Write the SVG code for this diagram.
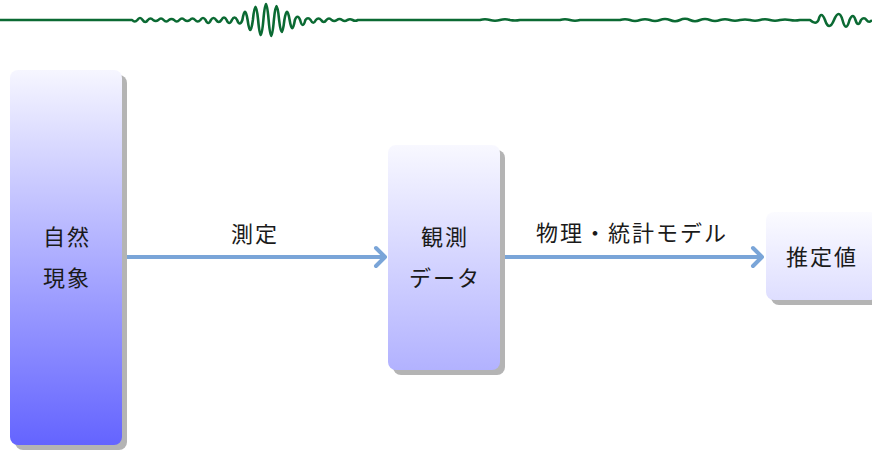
<svg xmlns="http://www.w3.org/2000/svg" width="872" height="452" viewBox="0 0 872 452">
<style>
.shadow{fill:#b4b4b4}
.lbl{font-family:"Noto Sans CJK JP","Noto Sans CJK SC",sans-serif;font-size:22px;fill:#1a1a1a;text-anchor:middle;letter-spacing:2px}
.conn{fill:none;stroke:#7aa5d8;stroke-width:4;stroke-linecap:round;stroke-linejoin:round}
.wave{fill:none;stroke:#0b6a33;stroke-width:2.6;stroke-linejoin:round}
</style>
<defs>
<linearGradient id="g1" x1="0" y1="0" x2="0" y2="1"><stop offset="0" stop-color="#f6f6ff"/><stop offset="1" stop-color="#6464ff"/></linearGradient>
<linearGradient id="g2" x1="0" y1="0" x2="0" y2="1"><stop offset="0" stop-color="#f8f8ff"/><stop offset="1" stop-color="#b2b2ff"/></linearGradient>
<linearGradient id="g3" x1="0" y1="0" x2="0" y2="1"><stop offset="0" stop-color="#fbfbff"/><stop offset="1" stop-color="#dedeff"/></linearGradient>
</defs>
<path class="wave" d="M0,20 H132.125
q2.625,3 5.25,0 q2.625,-4 5.25,0 q2.625,4 5.25,0 q2.625,-3 5.25,0 q2.625,2 5.25,0 q2.625,-3 5.25,0 q2.625,3 5.25,0 q2.625,-2 5.25,0 q2.625,3 5.25,0 q2.625,-3 5.25,0 q2.625,2 5.25,0 q2.625,-3 5.25,0 q2.625,3 5.25,0 q2.625,-4 5.25,0 q2.625,6 5.25,0 q2.625,-4 5.25,0 q2.625,4 5.25,0 q2.625,-5 5.25,0 q2.625,6 5.25,0 q2.625,-5 5.25,0 q2.625,7 5.25,0
q2.625,-16.6 5.25,0 q2.625,20 5.25,0 q2.625,-26.6 5.25,0 q2.625,30 5.25,0 q2.625,-32 5.25,0 q2.625,32 5.25,0 q2.625,-28 5.25,0 q2.625,24 5.25,0 q2.625,-16.6 5.25,0 q2.625,16.6 5.25,0 q2.625,-6.6 5.25,0 q2.625,10 5.25,0 q2.625,-3.4 5.25,0 q2.625,5.4 5.25,0
q2.625,-3 5.25,0 q2.625,4 5.25,0 q2.625,-3 5.25,0 q2.625,2 5.25,0 q2.625,-2 5.25,0 q2.625,2 5.25,0 q2.625,-1.4 5.25,0 q2.625,1.4 5.25,0
H480 q5,-1.5 10,0 q5,1.5 10,0 q5,-1.5 10,0 q5,1 10,0 H560 q5,-1.5 10,0 q5,1.5 10,0 H620 q5,-1.5 10,0 q5,2 10,0 q5,-1.5 10,0 q5,2 10,0 q5,-2 10,0 q5,2.5 10,0 q5,-2.5 10,0 q5,2.5 10,0 q5,-2 10,0 q5,2 10,0 q5,-1.5 10,0 q5,1.5 10,0 q5,-1 10,0 q5,1.5 10,0 q5,-1.5 10,0 q5,1.5 10,0 q5,-1 10,0 q5,1 10,0 H810
Q816,25.4 818.5,20 Q821,10 825,20 Q829,32 834,20 Q839,8 842.5,20 Q846,33.4 849.5,20 Q853,12 855.5,20 Q858,28 861,20 Q864,16.6 866.5,20 Q869,23.4 872,20"/>
<g id="connectors">
<path class="conn" d="M126,257 H384 M376,248 L385,257 L376,266"/>
<path class="conn" d="M502,257 H761 M753,248 L762,257 L753,266"/>
</g>
<g id="node1">
<rect class="shadow" x="15" y="75" width="112" height="375" rx="8"/>
<rect x="10" y="70" width="112" height="375" rx="8" fill="url(#g1)"/>
<text class="lbl" x="67" y="245">自然</text>
<text class="lbl" x="67" y="286">現象</text>
</g>
<g id="node2">
<rect class="shadow" x="393" y="150" width="112" height="225" rx="8"/>
<rect x="388" y="145" width="112" height="225" rx="8" fill="url(#g2)"/>
<text class="lbl" x="445" y="245">観測</text>
<text class="lbl" x="445" y="286">データ</text>
</g>
<g id="node3">
<rect class="shadow" x="771" y="217" width="112" height="88" rx="8"/>
<rect x="766" y="212" width="112" height="88" rx="8" fill="url(#g3)"/>
<text class="lbl" x="822" y="265">推定値</text>
</g>
<g id="labels">
<text class="lbl" x="255" y="242">測定</text>
<text class="lbl" x="632" y="241">物理・統計モデル</text>
</g>
</svg>
